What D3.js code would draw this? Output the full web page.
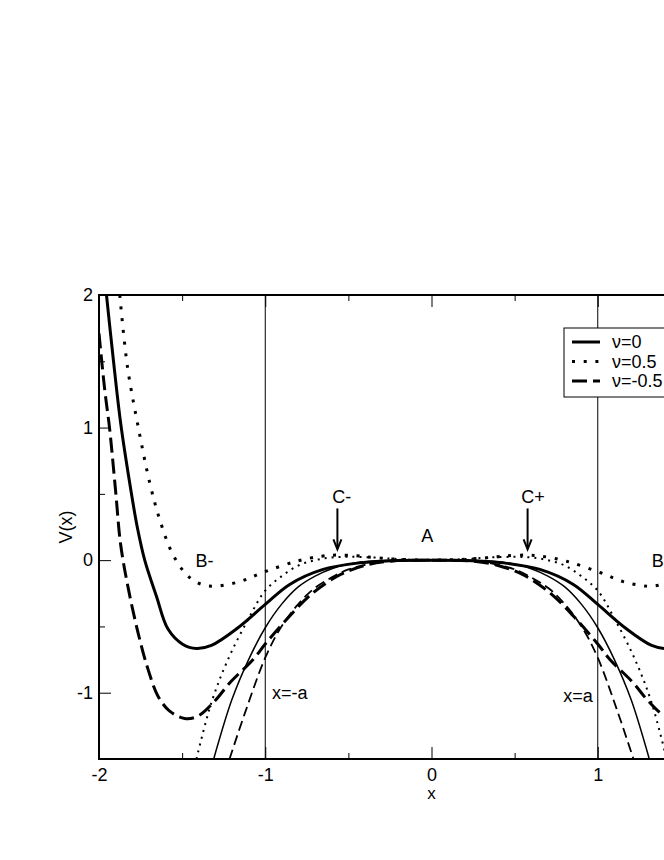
<!DOCTYPE html>
<html>
<head>
<meta charset="utf-8">
<script src="https://cdn.jsdelivr.net/npm/d3@7"></script>
<style>
  body { margin: 0; background: #fff; }
  svg { display: block; font-family: "Liberation Sans", Arial, sans-serif; }
</style>
</head>
<body>
<div id="chart"></div>
<script>
// thick curves: full potential V(x) for three values of nu
const nu0 = [
  [-1.955, 2.0], [-1.916, 1.538], [-1.87, 1.036], [-1.809, 0.533], [-1.769, 0.244],
  [-1.725, 0.0], [-1.655, -0.27], [-1.585, -0.52], [-1.495, -0.636], [-1.414, -0.666],
  [-1.324, -0.643], [-1.164, -0.51], [-1.0, -0.334], [-0.853, -0.183], [-0.652, -0.07],
  [-0.43, -0.02], [-0.2, -0.002], [0, 0],
  [0.2, -0.002], [0.43, -0.02], [0.652, -0.07], [0.853, -0.183], [1.0, -0.334],
  [1.164, -0.51], [1.324, -0.643], [1.414, -0.666], [1.495, -0.636], [1.585, -0.52],
  [1.655, -0.27], [1.725, 0.0], [1.769, 0.244], [1.809, 0.533], [1.87, 1.036],
  [1.916, 1.538], [1.955, 2.0]
];
const nu05 = [
  [-1.875, 2.0], [-1.829, 1.46], [-1.765, 1.01], [-1.695, 0.584], [-1.635, 0.307],
  [-1.561, 0.056], [-1.484, -0.095], [-1.424, -0.158], [-1.364, -0.19], [-1.294, -0.196],
  [-1.153, -0.162], [-1.018, -0.095], [-0.812, -0.008], [-0.66, 0.03], [-0.57, 0.038],
  [-0.45, 0.033], [-0.39, 0.025], [-0.25, 0.01], [0, 0],
  [0.25, 0.01], [0.39, 0.025], [0.45, 0.033], [0.57, 0.038], [0.66, 0.03],
  [0.812, -0.008], [1.018, -0.095], [1.153, -0.162], [1.294, -0.196], [1.364, -0.19],
  [1.424, -0.158], [1.484, -0.095], [1.561, 0.056], [1.635, 0.307], [1.695, 0.584],
  [1.765, 1.01], [1.829, 1.46], [1.875, 2.0]
];
const nuM05 = [
  [-2.0, 1.71], [-1.966, 1.29], [-1.936, 0.99], [-1.9, 0.52], [-1.87, 0.12],
  [-1.826, -0.2], [-1.765, -0.548], [-1.705, -0.824], [-1.645, -1.026], [-1.575, -1.139],
  [-1.484, -1.194], [-1.404, -1.176], [-1.304, -1.063], [-1.213, -0.925], [-1.073, -0.749],
  [-1.0, -0.633], [-0.872, -0.447], [-0.712, -0.246], [-0.55, -0.11], [-0.4, -0.04],
  [-0.25, -0.008], [0, 0],
  [0.25, -0.008], [0.4, -0.04], [0.55, -0.11], [0.712, -0.246], [0.872, -0.447],
  [1.0, -0.633], [1.073, -0.749], [1.213, -0.925], [1.304, -1.063], [1.404, -1.176],
  [1.484, -1.194], [1.575, -1.139], [1.645, -1.026], [1.705, -0.824], [1.765, -0.548],
  [1.826, -0.2], [1.87, 0.12], [1.9, 0.52], [1.936, 0.99], [1.966, 1.29], [2.0, 1.71]
];

// thin curves: the approximations near the top of the barrier
const approx0 = [
  [-1.31, -1.5], [-1.2, -1.05], [-1.1, -0.75], [-1.0, -0.51], [-0.9, -0.33], [-0.8, -0.2],
  [-0.7, -0.12], [-0.6, -0.065], [-0.5, -0.03], [-0.4, -0.012], [-0.2, -0.001], [0, 0],
  [0.2, -0.001], [0.4, -0.012], [0.5, -0.03], [0.6, -0.065], [0.7, -0.12], [0.8, -0.2],
  [0.9, -0.33], [1.0, -0.51], [1.1, -0.75], [1.2, -1.05], [1.31, -1.5]
];
const approx05 = [
  [-1.414, -1.5], [-1.324, -1.075], [-1.224, -0.749], [-1.103, -0.447], [-1.0, -0.23],
  [-0.9, -0.12], [-0.8, -0.04], [-0.7, 0.0], [-0.6, 0.02], [-0.5, 0.025], [-0.35, 0.02],
  [-0.2, 0.008], [0, 0],
  [0.2, 0.008], [0.35, 0.02], [0.5, 0.025], [0.6, 0.02], [0.7, 0.0], [0.8, -0.04],
  [0.9, -0.12], [1.0, -0.23], [1.103, -0.447], [1.224, -0.749], [1.324, -1.075], [1.414, -1.5]
];
const approxM05 = [
  [-1.215, -1.5], [-1.113, -1.12], [-1.0, -0.736], [-0.912, -0.52], [-0.812, -0.347],
  [-0.712, -0.22], [-0.6, -0.13], [-0.5, -0.07], [-0.4, -0.035], [-0.3, -0.012],
  [-0.15, -0.001], [0, 0],
  [0.15, -0.001], [0.3, -0.012], [0.4, -0.035], [0.5, -0.07], [0.6, -0.13], [0.712, -0.22],
  [0.812, -0.347], [0.912, -0.52], [1.0, -0.736], [1.113, -1.12], [1.215, -1.5]
];

const xTicks = [-2, -1, 0, 1, 2];
const xTickLabels = [-2, -1, 0, 1];  // the label at 2 lies outside the picture
const xMinor = [-1.5, -0.5, 0.5, 1.5];
const yTicks = [-1, 0, 1, 2];
const yMinor = [-0.5, 0.5, 1.5];
const walls = [-1, 1];
const legendLabels = ["ν=0", "ν=0.5", "ν=-0.5"];

const width = 664,
  height = 860;
const plot = { left: 99, right: 764, top: 295, bottom: 759 };
const fontSize = 18;

const x = d3.scaleLinear().domain([-2, 2]).range([plot.left, plot.right]);
const y = d3.scaleLinear().domain([-1.5, 2]).range([plot.bottom, plot.top]);

const svg = d3.select("#chart")
  .append("svg")
  .attr("width", width)
  .attr("height", height);

svg.append("rect").attr("width", width).attr("height", height).attr("fill", "#fff");

svg.append("defs").append("clipPath")
  .attr("id", "clip")
  .append("rect")
  .attr("x", plot.left)
  .attr("y", plot.top)
  .attr("width", plot.right - plot.left)
  .attr("height", plot.bottom - plot.top);

// walls at x = -a and x = a
svg.append("g")
  .selectAll("line")
  .data(walls)
  .join("line")
  .attr("x1", d => x(d))
  .attr("x2", d => x(d))
  .attr("y1", plot.top)
  .attr("y2", plot.bottom)
  .attr("stroke", "#000")
  .attr("stroke-width", 1);

const line = d3.line()
  .x(d => x(d[0]))
  .y(d => y(d[1]))
  .curve(d3.curveCatmullRom);

const series = [
  { data: approx0, width: 1.5, dash: null },
  { data: approx05, width: 2, dash: "2,5" },
  { data: approxM05, width: 1.8, dash: "10,5" },
  { data: nu0, width: 3, dash: null },
  { data: nu05, width: 3, dash: "3,8.7" },
  { data: nuM05, width: 3, dash: "15,6" }
];

svg.append("g")
  .attr("clip-path", "url(#clip)")
  .selectAll("path")
  .data(series)
  .join("path")
  .attr("fill", "none")
  .attr("stroke", "#000")
  .attr("stroke-width", d => d.width)
  .attr("stroke-dasharray", d => d.dash)
  .attr("d", d => line(d.data));

// axes with inward ticks
svg.append("g")
  .attr("transform", `translate(0,${plot.bottom})`)
  .call(d3.axisBottom(x).tickValues(xTicks).tickFormat(d => xTickLabels.includes(d) ? String(d) : "")
    .tickSizeInner(-12).tickSizeOuter(0).tickPadding(9))
  .call(g => g.select(".domain").remove());
svg.append("g")
  .attr("transform", `translate(0,${plot.bottom})`)
  .call(d3.axisBottom(x).tickValues(xMinor).tickFormat("").tickSizeInner(-6).tickSizeOuter(0))
  .call(g => g.select(".domain").remove());
svg.append("g")
  .attr("transform", `translate(0,${plot.top})`)
  .call(d3.axisTop(x).tickValues(xTicks).tickFormat("").tickSizeInner(-12).tickSizeOuter(0))
  .call(g => g.select(".domain").remove());
svg.append("g")
  .attr("transform", `translate(0,${plot.top})`)
  .call(d3.axisTop(x).tickValues(xMinor).tickFormat("").tickSizeInner(-6).tickSizeOuter(0))
  .call(g => g.select(".domain").remove());
svg.append("g")
  .attr("transform", `translate(${plot.left},0)`)
  .call(d3.axisLeft(y).tickValues(yTicks).tickFormat(d => String(d)).tickSizeInner(-12).tickSizeOuter(0).tickPadding(6))
  .call(g => g.select(".domain").remove());
svg.append("g")
  .attr("transform", `translate(${plot.left},0)`)
  .call(d3.axisLeft(y).tickValues(yMinor).tickFormat("").tickSizeInner(-6).tickSizeOuter(0))
  .call(g => g.select(".domain").remove());

svg.selectAll(".tick line").attr("stroke", "#000").attr("stroke-width", 1);
svg.selectAll(".tick text")
  .attr("fill", "#000")
  .style("font-size", fontSize + "px")
  .style("font-family", "Liberation Sans, Arial, sans-serif");

// frame
svg.append("rect")
  .attr("x", plot.left)
  .attr("y", plot.top)
  .attr("width", plot.right - plot.left)
  .attr("height", plot.bottom - plot.top)
  .attr("fill", "none")
  .attr("stroke", "#000")
  .attr("stroke-width", 2);

// axis titles
svg.append("text")
  .attr("x", x(0))
  .attr("y", 799)
  .attr("text-anchor", "middle")
  .attr("font-size", 17)
  .text("x");
svg.append("text")
  .attr("transform", `translate(72,${y(0.25)}) rotate(-90)`)
  .attr("text-anchor", "middle")
  .attr("font-size", fontSize)
  .text("V(x)");

// labels inside the plot
const labels = [
  { text: "C-", x: -0.54, y: 0.428, anchor: "middle" },
  { text: "C+", x: 0.61, y: 0.428, anchor: "middle" },
  { text: "A", x: -0.025, y: 0.14, anchor: "middle" },
  { text: "B-", x: -1.42, y: -0.05, anchor: "start" },
  { text: "B+", x: 1.325, y: -0.05, anchor: "start" },
  { text: "x=-a", x: -0.96, y: -1.05, anchor: "start" },
  { text: "x=a", x: 0.97, y: -1.07, anchor: "end" }
];
svg.append("g")
  .selectAll("text")
  .data(labels)
  .join("text")
  .attr("x", d => x(d.x))
  .attr("y", d => y(d.y))
  .attr("text-anchor", d => d.anchor)
  .attr("font-size", fontSize)
  .text(d => d.text);

// arrows pointing at the maxima C- and C+
const arrows = [
  { x: -0.566, from: 0.39, to: 0.082 },
  { x: 0.578, from: 0.39, to: 0.082 }
];
const arrowG = svg.append("g")
  .attr("stroke", "#000")
  .attr("fill", "none")
  .attr("stroke-width", 2);
arrowG.selectAll("line")
  .data(arrows)
  .join("line")
  .attr("x1", d => x(d.x))
  .attr("x2", d => x(d.x))
  .attr("y1", d => y(d.from))
  .attr("y2", d => y(d.to) - 1);
arrowG.selectAll("path")
  .data(arrows)
  .join("path")
  .attr("d", d => `M${x(d.x) - 4},${y(d.to) - 10}L${x(d.x)},${y(d.to)}L${x(d.x) + 4},${y(d.to) - 10}`);

// legend
const legend = svg.append("g").attr("transform", "translate(564,328)");
legend.append("rect")
  .attr("width", 140)
  .attr("height", 69)
  .attr("fill", "#fff")
  .attr("stroke", "#000")
  .attr("stroke-width", 1);
const legendStyles = series.slice(3);
const rows = legend.selectAll("g.row")
  .data(legendLabels)
  .join("g")
  .attr("class", "row")
  .attr("transform", (d, i) => `translate(0,${14 + i * 19.5})`);
rows.append("line")
  .attr("x1", 8)
  .attr("x2", 36)
  .attr("stroke", "#000")
  .attr("stroke-width", (d, i) => legendStyles[i].width)
  .attr("stroke-dasharray", (d, i) => legendStyles[i].dash);
rows.append("text")
  .attr("x", 48)
  .attr("y", 6)
  .attr("font-size", fontSize)
  .text(d => d);
</script>
</body>
</html>
